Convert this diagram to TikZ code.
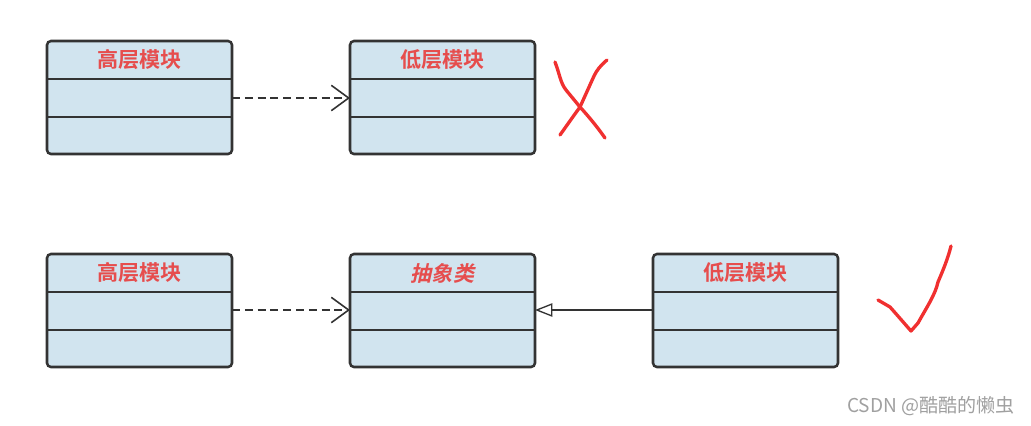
\documentclass[tikz,border=0pt]{standalone}
\usepackage{fontspec}
\setmainfont{Noto Sans CJK SC}
\newfontfamily\cjkb{Noto Sans CJK SC Bold}
\newfontfamily\cjkbi[FakeSlant=0.22]{Noto Sans CJK SC Bold}
\newfontfamily\cjkr{Noto Sans CJK SC}
\usetikzlibrary{arrows.meta}
\definecolor{boxfill}{HTML}{D1E4EF}
\definecolor{boxline}{HTML}{333333}
\definecolor{titlered}{HTML}{E64D4D}
\definecolor{markred}{HTML}{F03030}
\definecolor{wmgray}{HTML}{A0A0A0}
\tikzset{
  classbox/.style={draw=boxline, fill=boxfill, line width=1.9pt, rounded corners=3pt},
  rowline/.style={draw=boxline, line width=1.9pt},
  title/.style={text=titlered, font=\cjkb\fontsize{15.8}{16}\selectfont, inner sep=0pt},
  ititle/.style={text=titlered, font=\cjkbi\fontsize{15.8}{16}\selectfont, inner sep=0pt},
  depend/.style={draw=boxline, line width=1.1pt, dash pattern=on 6pt off 3.6pt, -{Straight Barb[length=13pt,width=19pt,line width=1.2pt]}},
  realize/.style={draw=boxline, line width=1pt, -{Triangle[open,length=13pt,width=10pt,line width=1pt]}},
  redmark/.style={draw=markred, line width=2.5pt, line cap=round, line join=round},
}
\begin{document}
\begin{tikzpicture}[x=0.75pt,y=-0.75pt]
\useasboundingbox (0,0) rectangle (1031,425);
\foreach \n/\x/\y in {a/47/41, b/350/41, c/47/254, d/350/254, e/653/254}{
  \path[classbox] (\x,\y) rectangle ++(185,113);
  \draw[rowline] (\x,\y+38) -- ++(185,0);
  \draw[rowline] (\x,\y+76) -- ++(185,0);
}
\coordinate (aR) at (232,98);
\coordinate (bL) at (350,98);
\coordinate (cR) at (232,310);
\coordinate (dL) at (350,310);
\coordinate (dR) at (535,310);
\coordinate (eL) at (653,310);
\node[title] (ta) at (139.5,60) {高层模块};
\node[title] (tb) at (442.5,60) {低层模块};
\node[title] (tc) at (139.5,273) {高层模块};
\node[ititle] (td) at (442.5,273) {抽象类};
\node[title] (te) at (745.5,273) {低层模块};
\draw[depend] (aR) -- (bL);
\draw[depend] (cR) -- (dL);
\draw[realize] (eL) -- (dR);
% red cross
\draw[redmark] (555,62) .. controls (560,75) and (560,82) .. (566,90) -- (580,107) .. controls (590,118) and (598,128) .. (605,138);
\draw[redmark] (607,60) .. controls (600,66) and (597,70) .. (594,76) -- (580,107) .. controls (572,118) and (565,128) .. (560,135);
% red check
\draw[redmark] (878,300) -- (890,307) .. controls (898,316) and (904,323) .. (911,331) -- (918,323) .. controls (928,305) and (935,295) .. (938,282) .. controls (944,268) and (948,258) .. (951,246);
\node[text=wmgray, font=\cjkr\fontsize{14.3}{15}\selectfont, anchor=east, inner sep=0pt] (wm) at (1015,406) {CSDN @酷酷的懒虫};
\end{tikzpicture}
\end{document}
